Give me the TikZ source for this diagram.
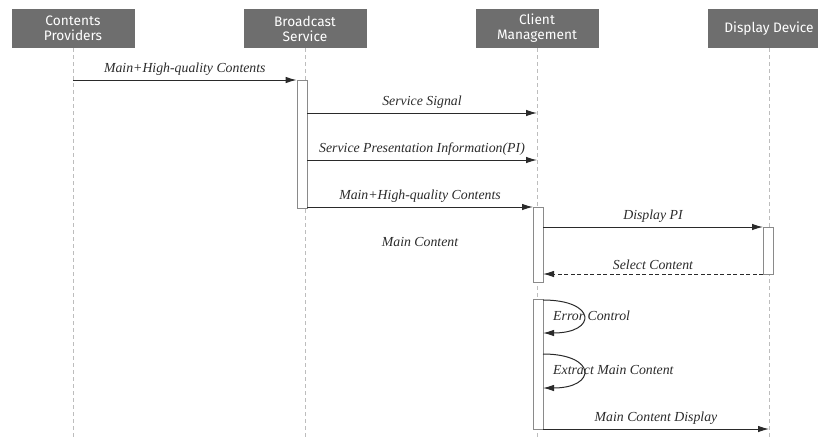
\documentclass[tikz,border=0pt]{standalone}
\usepackage{fontspec}
\setmainfont{Liberation Serif}
\newfontfamily\headfont{Fira Sans}
\usetikzlibrary{arrows.meta}
\definecolor{headgray}{HTML}{6E6E6E}
\definecolor{lifegray}{HTML}{BDBDBD}
\definecolor{bargray}{HTML}{8A8A8A}
\definecolor{ink}{HTML}{2A2A2A}
\begin{document}
\begin{tikzpicture}[x=1pt,y=-1pt,
  head/.style={fill=headgray, text=white, minimum width=123pt, minimum height=39pt,
    inner sep=0pt, align=center, font=\headfont\fontsize{13.7}{15}\selectfont},
  life/.style={draw=lifegray, dash pattern=on 4pt off 3pt, line width=0.8pt},
  bar/.style={draw=bargray, fill=white, line width=0.7pt, minimum width=10pt,
    inner sep=0pt, anchor=north},
  msg/.style={draw=ink, -{Latex[length=11pt,width=6.5pt]}, line width=1pt},
  reply/.style={msg, dash pattern=on 4pt off 2.5pt},
  lbl/.style={font=\itshape\fontsize{13.8}{15}\selectfont, text=ink, inner sep=1pt}]
\useasboundingbox (0,0) rectangle (818,439);
\clip (0,0) rectangle (818,439);

% participants
\node[head] (cp) at (73,28.5) {Contents\\Providers};
\node[head] (bs) at (305,28.5) {Broadcast\\Service};
\node[head] (cm) at (537,28.5) {Client\\Management};
\node[head] (dd) at (769,28.5) {Display Device};

% lifelines
\coordinate (cpEnd) at (73,439);
\coordinate (bsEnd) at (305,439);
\coordinate (cmEnd) at (537,439);
\coordinate (ddEnd) at (769,439);
\draw[life] (cp.south) -- (cpEnd);
\draw[life] (bs.south) -- (bsEnd);
\draw[life] (cm.south) -- (cmEnd);
\draw[life] (dd.south) -- (ddEnd);

% activation bars
\node[bar, minimum height=128pt] (actB) at (302,80) {};
\node[bar, minimum height=75pt] (actC1) at (538,207) {};
\node[bar, minimum height=47pt] (actD) at (768,227) {};
\node[bar, minimum height=130pt] (actC2) at (538,299) {};

% message end points
\coordinate (m1s) at (73,80);
\coordinate (m2s) at (307,113);   \coordinate (m2e) at (537,113);
\coordinate (m3s) at (307,160);   \coordinate (m3e) at (537,160);
\coordinate (m4s) at (307,207);   \coordinate (m4e) at (533,207);
\coordinate (m5s) at (543,227);   \coordinate (m5e) at (763,227);
\coordinate (m6s) at (763,274);   \coordinate (m6e) at (543,274);
\coordinate (l1s) at (543,300);   \coordinate (l1e) at (543,333);
\coordinate (l2s) at (543,354);   \coordinate (l2e) at (543,388);
\coordinate (m7s) at (543,429);   \coordinate (m7e) at (769,429);

% messages
\draw[msg] (m1s) -- (actB.north west)
  node[lbl, midway, above=3pt] {Main+High-quality Contents};
\draw[msg] (m2s) -- (m2e) node[lbl, midway, above=3pt] {Service Signal};
\draw[msg] (m3s) -- (m3e) node[lbl, midway, above=3pt] {Service Presentation Information(PI)};
\draw[msg] (m4s) -- (m4e) node[lbl, midway, above=3pt] {Main+High-quality Contents};
\node[lbl] (mc) at (420,242) {Main Content};
\draw[msg] (m5s) -- (m5e) node[lbl, midway, above=3pt] {Display PI};
\draw[reply] (m6s) -- (m6e) node[lbl, midway, above=3pt] {Select Content};

% self messages
\draw[msg] (l1s) .. controls (597,300) and (597,333) .. (l1e);
\node[lbl, anchor=west] (ec) at (552,316) {Error Control};
\draw[msg] (l2s) .. controls (597,354) and (597,388) .. (l2e);
\node[lbl, anchor=west] (em) at (552,370) {Extract Main Content};

\draw[msg] (m7s) -- (m7e) node[lbl, midway, above=3pt] {Main Content Display};
\end{tikzpicture}
\end{document}
